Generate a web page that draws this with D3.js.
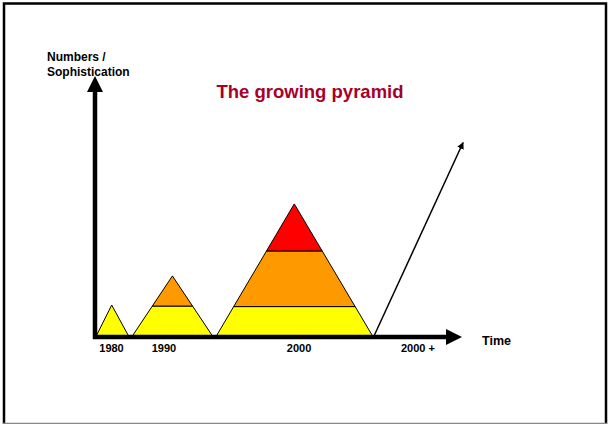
<!DOCTYPE html>
<html>
<head>
<meta charset="utf-8">
<script src="https://cdn.jsdelivr.net/npm/d3@7"></script>
<style>
  body { margin: 0; background: #fff; }
  text { font-family: "Liberation Sans", Arial, sans-serif; font-weight: bold; }
</style>
</head>
<body>
<script>
// pyramids in abstract time / size units
const years = ['1980', '1990', '2000'];
const baseStart = [0.2, 10, 32.9];
const baseEnd = [9.3, 32.2, 75.8];
const apexX = [4.55, 21.1, 54.3];
const apexH = [12.3, 23.5, 51.2];
// band tops for each pyramid (last = apex)
const bands = [[12.3], [11.9, 23.5], [11.7, 33.1, 51.2]];
const bandColors = ['#FFFF00', '#FF9900', '#FF0000'];

const tickLabels = ['1980', '1990', '2000', '2000 +'];
const tickPos = [4.5, 18.8, 55.6, 88];

// the "future" arrow
const futureFrom = [75.9, 0];
const futureTo = [100.3, 74.8];

window.onload = () => {
  const width = 610,
    height = 424;

  const svg = d3
    .select('body')
    .append('svg')
    .attr('width', width)
    .attr('height', height);

  const x = d3.scaleLinear().domain([0, 100]).range([95, 462]);
  const y = d3.scaleLinear().domain([0, 100]).range([337, 77]);

  // frame
  svg.append('rect')
    .attr('x', 4).attr('y', 3.5)
    .attr('width', 602).attr('height', 430)
    .attr('fill', 'none').attr('stroke', '#000').attr('stroke-width', 2.5);
  svg.append('line')
    .attr('x1', 3).attr('x2', 607).attr('y1', 423.5).attr('y2', 423.5)
    .attr('stroke', '#888').attr('stroke-width', 1.5);

  // pyramids
  years.forEach((yr, i) => {
    const L = baseStart[i], R = baseEnd[i], A = apexX[i], H = apexH[i];
    const lx = h => L + (A - L) * h / H;
    const rx = h => R - (R - A) * h / H;
    let prev = 0;
    bands[i].forEach((top, j) => {
      const pts = top >= H
        ? [[lx(prev), prev], [rx(prev), prev], [A, H]]
        : [[lx(prev), prev], [rx(prev), prev], [rx(top), top], [lx(top), top]];
      svg.append('polygon')
        .attr('points', pts.map(p => [x(p[0]), y(p[1])].join(',')).join(' '))
        .attr('fill', bandColors[j])
        .attr('stroke', '#000')
        .attr('stroke-width', 1)
        .attr('stroke-linejoin', 'miter');
      prev = top;
    });
  });

  // future arrow
  svg.append('defs').append('marker')
    .attr('id', 'head')
    .attr('viewBox', '0 0 10 10')
    .attr('refX', 9).attr('refY', 5)
    .attr('markerWidth', 7).attr('markerHeight', 7)
    .attr('markerUnits', 'userSpaceOnUse')
    .attr('orient', 'auto')
    .append('path').attr('d', 'M0,0 L10,5 L0,10 Z').attr('fill', '#000');

  svg.append('line')
    .attr('x1', x(futureFrom[0])).attr('y1', y(futureFrom[1]))
    .attr('x2', x(futureTo[0])).attr('y2', y(futureTo[1]))
    .attr('stroke', '#000').attr('stroke-width', 1.5)
    .attr('marker-end', 'url(#head)');

  // axes
  svg.append('line')
    .attr('x1', x(0)).attr('x2', x(0))
    .attr('y1', y(0) + 2).attr('y2', y(0) - 248)
    .attr('stroke', '#000').attr('stroke-width', 4.5);
  svg.append('path')
    .attr('d', `M${x(0) - 8},${y(0) - 245} L${x(0)},${y(0) - 261} L${x(0) + 8},${y(0) - 245} Z`)
    .attr('fill', '#000');

  svg.append('line')
    .attr('x1', x(0) - 2).attr('x2', x(100) - 14)
    .attr('y1', y(0)).attr('y2', y(0))
    .attr('stroke', '#000').attr('stroke-width', 4.5);
  svg.append('path')
    .attr('d', `M${x(100) - 16},${y(0) - 8} L${x(100)},${y(0)} L${x(100) - 16},${y(0) + 8} Z`)
    .attr('fill', '#000');

  // tick labels
  svg.selectAll('.tick')
    .data(tickLabels)
    .enter()
    .append('text')
    .attr('x', (d, i) => x(tickPos[i]))
    .attr('y', 352)
    .attr('text-anchor', 'middle')
    .attr('font-size', 11)
    .text(d => d);

  svg.append('text')
    .attr('x', 482).attr('y', 345)
    .attr('font-size', 12.5)
    .text('Time');

  svg.append('text')
    .attr('x', 47).attr('y', 61)
    .attr('font-size', 12)
    .text('Numbers /');
  svg.append('text')
    .attr('x', 47).attr('y', 76)
    .attr('font-size', 12)
    .text('Sophistication');

  svg.append('text')
    .attr('x', 310).attr('y', 98)
    .attr('text-anchor', 'middle')
    .attr('font-size', 18.5)
    .attr('fill', '#A8002A')
    .text('The growing pyramid');
};
</script>
</body>
</html>
